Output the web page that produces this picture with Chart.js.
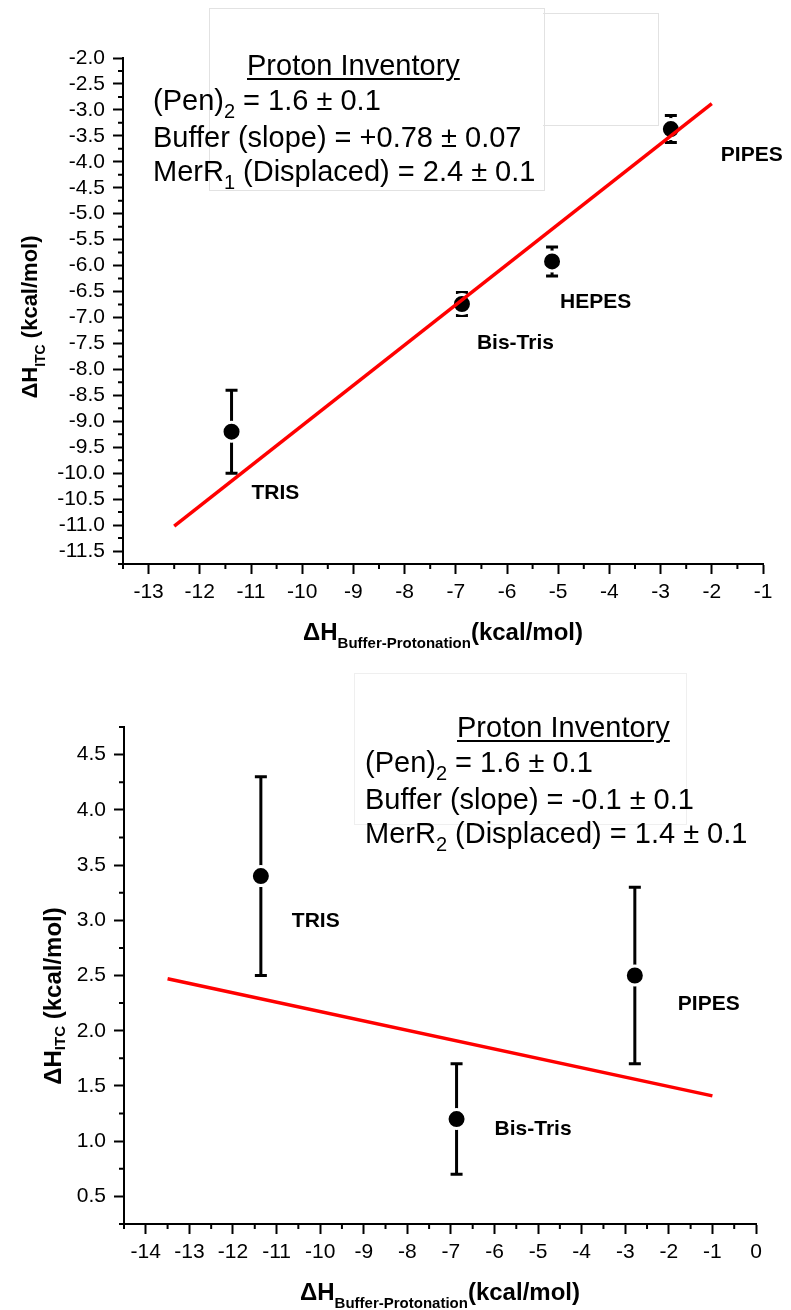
<!DOCTYPE html>
<html>
<head>
<meta charset="utf-8">
<title>Proton inventory</title>
<script src="https://cdn.jsdelivr.net/npm/chart.js@4.4.1/dist/chart.umd.min.js"></script>
<style>
  body { margin: 0; background: #fff; font-family: "Liberation Sans", Arial, sans-serif; }
  #page { position: relative; width: 791px; height: 1310px; overflow: hidden; }
  .panel { position: absolute; left: 0; width: 791px; }
  .frame { position: absolute; border: 1px solid #e2e2e2; }
  .note { position: absolute; font-size: 29px; line-height: 34px; color: #000; white-space: nowrap; }
  .note u { text-decoration-thickness: 2px; text-underline-offset: 3px; }
  .note .s { font-size: 20px; position: relative; top: 8px; }
</style>
</head>
<body>
<div id="page">
  <div class="panel" style="top:0;height:660px"><canvas id="chartTop"></canvas></div>
  <div class="panel" style="top:660px;height:650px"><canvas id="chartBottom"></canvas></div>

  <!-- text box, top panel -->
  <div class="frame" style="left:209px;top:8px;width:334px;height:181px"></div>
  <div class="frame" style="left:543px;top:13px;width:115px;height:111px;border-left:none"></div>
  <div class="note" style="left:247px;top:48px"><u>Proton Inventory</u></div>
  <div class="note" style="left:153px;top:83px">(Pen)<span class="s">2</span>&nbsp;= 1.6 ± 0.1<br>Buffer (slope) = +0.78 ± 0.07<br>MerR<span class="s">1</span> (Displaced) = 2.4 ± 0.1</div>

  <!-- text box, bottom panel -->
  <div class="frame" style="left:354px;top:673px;width:331px;height:150px;border-color:#efefef"></div>
  <div class="note" style="left:457px;top:710px"><u>Proton Inventory</u></div>
  <div class="note" style="left:365px;top:745px">(Pen)<span class="s">2</span>&nbsp;= 1.6 ± 0.1<br>Buffer (slope) = -0.1 ± 0.1<br>MerR<span class="s">2</span> (Displaced) = 1.4 ± 0.1</div>
</div>

<script>
// ---- top panel (MerR1) ----
const buffers1 = ['TRIS', 'Bis-Tris', 'HEPES', 'PIPES'];
const dhBuffer1 = [-11.38, -6.88, -5.12, -2.8];
const dhItc1 = [-9.2, -6.74, -5.92, -3.37];
const dhItcErr1 = [0.8, 0.22, 0.28, 0.26];
const fitX1 = [-12.5, -2.0];
const fitY1 = [-11.02, -2.88];
const xRange1 = [-13.5, -1];
const yRange1 = [-11.75, -2.0];
const xTicks1 = [-13, -12, -11, -10, -9, -8, -7, -6, -5, -4, -3, -2, -1];
const yTicks1 = [-11.5, -11, -10.5, -10, -9.5, -9, -8.5, -8, -7.5, -7, -6.5, -6, -5.5, -5, -4.5, -4, -3.5, -3, -2.5, -2];

// ---- bottom panel (MerR2) ----
const buffers2 = ['TRIS', 'Bis-Tris', 'PIPES'];
const dhBuffer2 = [-11.36, -6.87, -2.78];
const dhItc2 = [3.4, 1.2, 2.5];
const dhItcErr2 = [0.9, 0.5, 0.8];
const fitX2 = [-13.5, -1.0];
const fitY2 = [2.47, 1.41];
const xRange2 = [-14.5, 0];
const yRange2 = [0.25, 4.75];
const xTicks2 = [-14, -13, -12, -11, -10, -9, -8, -7, -6, -5, -4, -3, -2, -1, 0];
const yTicks2 = [0.5, 1.0, 1.5, 2.0, 2.5, 3.0, 3.5, 4.0, 4.5];

const FONT = '"Liberation Sans", Arial, sans-serif';

// error bars go under the points
const errorBars = {
    id: 'errorBars',
    beforeDatasetsDraw(chart) {
        const ctx = chart.ctx;
        const xs = chart.scales.x, ys = chart.scales.y;
        chart.data.datasets.forEach(ds => {
            if (!ds.errors) return;
            ctx.save();
            ctx.strokeStyle = '#000';
            ctx.lineWidth = 3;
            ds.data.forEach((p, i) => {
                const px = xs.getPixelForValue(p.x);
                const top = ys.getPixelForValue(p.y + ds.errors[i]);
                const bot = ys.getPixelForValue(p.y - ds.errors[i]);
                ctx.beginPath();
                ctx.moveTo(px, top); ctx.lineTo(px, bot);
                ctx.moveTo(px - 6, top); ctx.lineTo(px + 6, top);
                ctx.moveTo(px - 6, bot); ctx.lineTo(px + 6, bot);
                ctx.stroke();
            });
            ctx.restore();
        });
    }
};

// buffer names next to the points
const pointNames = {
    id: 'pointNames',
    afterDatasetsDraw(chart, args, opts) {
        const ctx = chart.ctx;
        const xs = chart.scales.x, ys = chart.scales.y;
        chart.data.datasets.forEach(ds => {
            if (!ds.names) return;
            ctx.save();
            ctx.fillStyle = '#000';
            ctx.font = `bold 21px ${FONT}`;
            ctx.textBaseline = 'middle';
            ds.data.forEach((p, i) => {
                const off = opts.offsets[i];
                ctx.fillText(ds.names[i], xs.getPixelForValue(p.x) + off[0], ys.getPixelForValue(p.y) + off[1]);
            });
            ctx.restore();
        });
    }
};

// minor ticks (chart.js only draws one tick length)
const minorTicks = {
    id: 'minorTicks',
    afterDraw(chart, args, opts) {
        const ctx = chart.ctx;
        const area = chart.chartArea;
        const xs = chart.scales.x, ys = chart.scales.y;
        const isMajor = (v, step) => Math.abs(v / step - Math.round(v / step)) < 1e-6;
        ctx.save();
        ctx.strokeStyle = '#000';
        ctx.lineWidth = 2;
        ctx.beginPath();
        let n = Math.round((xs.max - xs.min) / opts.xStep);
        for (let i = 0; i <= n; i++) {
            const v = xs.min + i * opts.xStep;
            if (isMajor(v, opts.xStep * 2)) continue;
            const px = xs.getPixelForValue(v);
            ctx.moveTo(px, area.bottom); ctx.lineTo(px, area.bottom + 5);
        }
        n = Math.round((ys.max - ys.min) / opts.yStep);
        for (let i = 0; i <= n; i++) {
            const v = ys.min + i * opts.yStep;
            if (isMajor(v, opts.yStep * 2)) continue;
            const py = ys.getPixelForValue(v);
            ctx.moveTo(area.left, py); ctx.lineTo(area.left - 5, py);
        }
        ctx.stroke();
        ctx.restore();
    }
};

function drawRich(ctx, parts, x, y, rotate) {
    ctx.save();
    ctx.translate(x, y);
    if (rotate) ctx.rotate(-Math.PI / 2);
    ctx.fillStyle = '#000';
    ctx.textAlign = 'left';
    ctx.textBaseline = 'alphabetic';
    let total = 0;
    parts.forEach(p => {
        ctx.font = `bold ${p.size}px ${FONT}`;
        p.w = ctx.measureText(p.text).width;
        total += p.w;
    });
    let cx = -total / 2;
    parts.forEach(p => {
        ctx.font = `bold ${p.size}px ${FONT}`;
        ctx.fillText(p.text, cx, p.dy || 0);
        cx += p.w;
    });
    ctx.restore();
}

// axis titles with subscripts
const axisTitles = {
    id: 'axisTitles',
    afterDraw(chart, args, opts) {
        const ctx = chart.ctx;
        const area = chart.chartArea;
        drawRich(ctx, [
            { text: 'ΔH', size: 24 },
            { text: 'Buffer-Protonation', size: 15, dy: 8 },
            { text: '(kcal/mol)', size: 24 }
        ], (area.left + area.right) / 2, area.bottom + 76, false);
        const y = opts.y;
        drawRich(ctx, [
            { text: 'ΔH', size: y.main },
            { text: 'ITC', size: y.sub, dy: y.dy },
            { text: ' (kcal/mol)', size: y.main }
        ], y.x, y.cy, true);
    }
};

function makeChart(id, d) {
    const points = d.xs.map((x, i) => ({ x: x, y: d.ys[i] }));
    const fit = d.fitX.map((x, i) => ({ x: x, y: d.fitY[i] }));
    const tickFont = { family: FONT, size: 21 };
    return new Chart(document.getElementById(id), {
        type: 'scatter',
        data: {
            datasets: [
                {
                    label: 'fit',
                    data: fit,
                    showLine: true,
                    borderColor: '#ff0000',
                    borderWidth: 3.5,
                    pointRadius: 0,
                    order: 0
                },
                {
                    label: 'data',
                    data: points,
                    errors: d.errs,
                    names: d.names,
                    pointRadius: 9.5,
                    pointBorderWidth: 3,
                    pointBackgroundColor: '#000',
                    pointBorderColor: '#fff',
                    order: 1
                }
            ]
        },
        options: {
            responsive: true,
            maintainAspectRatio: false,
            animation: false,
            events: [],
            layout: { padding: { top: d.padTop, right: d.padRight, left: 0, bottom: 0 } },
            plugins: {
                legend: { display: false },
                tooltip: { enabled: false },
                pointNames: { offsets: d.labelOffsets },
                minorTicks: { xStep: 0.5, yStep: d.yMinor },
                axisTitles: { y: d.yTitle }
            },
            scales: {
                x: {
                    type: 'linear',
                    min: d.xRange[0],
                    max: d.xRange[1],
                    afterBuildTicks: s => { s.ticks = d.xTicks.map(v => ({ value: v })); },
                    afterFit: s => { s.height = d.xAxisHeight; },
                    border: { display: true, color: '#000', width: 2 },
                    grid: { display: true, drawOnChartArea: false, drawTicks: true, tickLength: 10, tickWidth: 2, tickColor: '#000' },
                    ticks: { color: '#000', font: tickFont, padding: 6, maxRotation: 0, autoSkip: false, callback: v => String(v) }
                },
                y: {
                    type: 'linear',
                    min: d.yRange[0],
                    max: d.yRange[1],
                    afterBuildTicks: s => { s.ticks = d.yTicks.map(v => ({ value: v })); },
                    afterFit: s => { s.width = d.yAxisWidth; },
                    border: { display: true, color: '#000', width: 2 },
                    grid: { display: true, drawOnChartArea: false, drawTicks: true, tickLength: 10, tickWidth: 2, tickColor: '#000' },
                    ticks: { color: '#000', font: tickFont, padding: 8, autoSkip: false, callback: v => Number(v).toFixed(1) }
                }
            }
        },
        plugins: [errorBars, pointNames, minorTicks, axisTitles]
    });
}

const chartTop = makeChart('chartTop', {
    names: buffers1, xs: dhBuffer1, ys: dhItc1, errs: dhItcErr1,
    fitX: fitX1, fitY: fitY1,
    xRange: xRange1, yRange: yRange1, xTicks: xTicks1, yTicks: yTicks1,
    yMinor: 0.25,
    padTop: 58, padRight: 28, yAxisWidth: 123, xAxisHeight: 96,
    labelOffsets: [[20, 62], [15, 39], [8, 41], [50, 26]],
    yTitle: { x: 37, cy: 317, main: 22, sub: 14, dy: 8 }
});

const chartBottom = makeChart('chartBottom', {
    names: buffers2, xs: dhBuffer2, ys: dhItc2, errs: dhItcErr2,
    fitX: fitX2, fitY: fitY2,
    xRange: xRange2, yRange: yRange2, xTicks: xTicks2, yTicks: yTicks2,
    yMinor: 0.25,
    padTop: 67, padRight: 35, yAxisWidth: 124, xAxisHeight: 86,
    labelOffsets: [[31, 45], [38, 10], [43, 29]],
    yTitle: { x: 61, cy: 336, main: 24, sub: 15, dy: 4 }
});
</script>
</body>
</html>
